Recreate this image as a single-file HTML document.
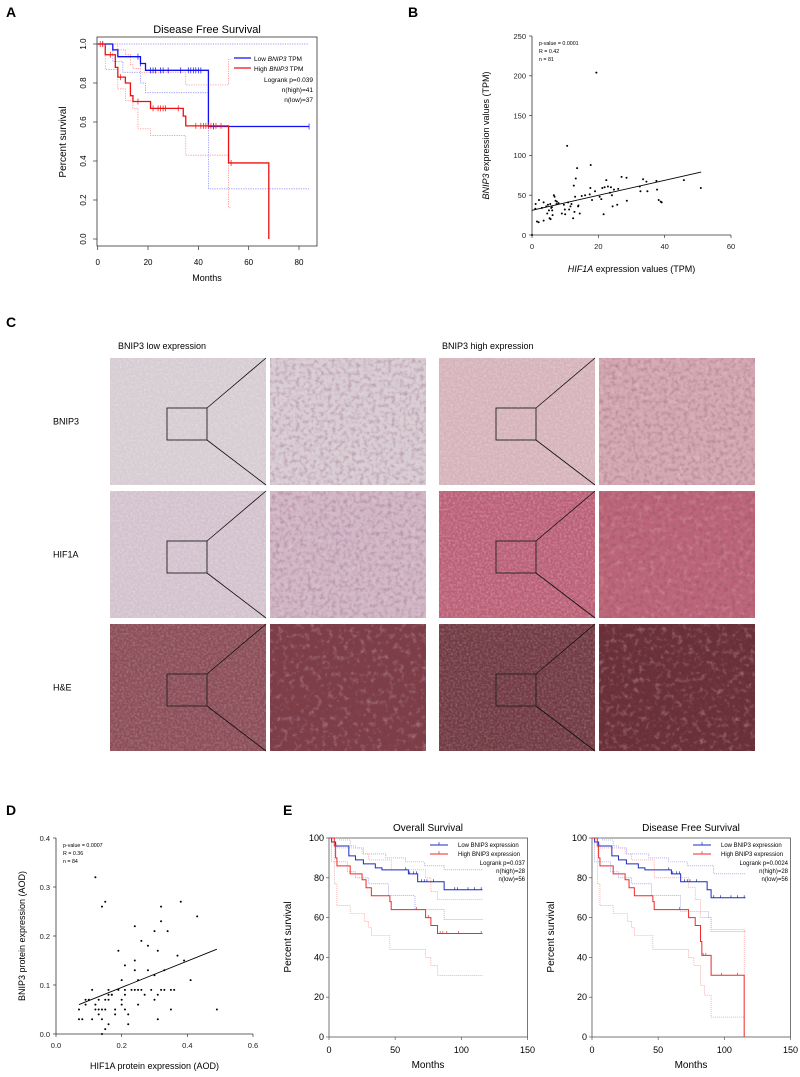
<!DOCTYPE html>
<html><head><meta charset="utf-8">
<style>
html,body{margin:0;padding:0;background:#fff;}
svg{display:block;font-family:"Liberation Sans",Arial,sans-serif;}
</style></head>
<body>
<svg id="fig" width="800" height="1077" viewBox="0 0 800 1077" xmlns="http://www.w3.org/2000/svg">
<defs>
<filter id="tex" x="0" y="0" width="100%" height="100%">
<feTurbulence type="fractalNoise" baseFrequency="0.45" numOctaves="2" seed="3"/>
<feColorMatrix type="matrix" values="0 0 0 0 1  0 0 0 0 1  0 0 0 0 1  0 0 0 -1.2 0.75"/>
</filter>
<filter id="tex2" x="0" y="0" width="100%" height="100%">
<feTurbulence type="fractalNoise" baseFrequency="0.25" numOctaves="2" seed="7"/>
<feColorMatrix type="matrix" values="0 0 0 0 0.2  0 0 0 0 0.05  0 0 0 0 0.1  0 0 0 -1.4 0.8"/>
</filter>
<filter id="tex3" x="0" y="0" width="100%" height="100%">
<feTurbulence type="fractalNoise" baseFrequency="0.18" numOctaves="3" seed="11"/>
<feColorMatrix type="matrix" values="0 0 0 0 0.95  0 0 0 0 0.8  0 0 0 0 0.85  0 0 0 -2.2 1.05"/>
</filter>
</defs>
<g font-weight="bold" font-size="14" fill="#000">
<text x="6" y="17">A</text>
<text x="408" y="17">B</text>
<text x="6" y="327">C</text>
<text x="6" y="815">D</text>
<text x="283" y="815">E</text>
</g>
<g id="panelA"></g>
<g id="panelB"></g>
<g id="panelC"></g>
<g id="panelD"></g>
<g id="panelE1"></g>
<g id="panelE2"></g>
</svg>
<script>
// ---------- Panel A data ----------
const aLowT = [0,6,8,17,19,44,84];
const aLowS = [1,0.97,0.935,0.90,0.865,0.577,0.577];
const aHighT = [0,3,7,8,11,13,14,21,34,35,52,68,68];
const aHighS = [1,0.945,0.88,0.83,0.80,0.735,0.705,0.67,0.63,0.58,0.39,0,0];
const aLowUpT = [0,84]; const aLowUpS = [1,1];
const aLowLoT = [0,6,9,10,17,19,44,84]; const aLowLoS = [1,0.91,0.91,0.855,0.80,0.75,0.257,0.257];
const aHighUpT = [0,8,11,13,14,17,34,35,52,53]; const aHighUpS = [1,0.97,0.945,0.895,0.875,0.855,0.855,0.79,0.92,0.92];
const aHighLoT = [0,3,8,11,13,14,16,21,34,35,52,53]; const aHighLoS = [1,0.87,0.77,0.71,0.71,0.67,0.565,0.53,0.53,0.43,0.16,0.16];
const aLowCens = [2,16,17,21,22,23,25,26,28,33,36,37,38,39,40,41,46,84];
const aHighCens = [1,2,5,9,16,22,24,25,26,27,32,39,41,42,43,44,45,46,47,49,53];
const aXTicks = [0,20,40,60,80];
const aYTicks = [0,0.2,0.4,0.6,0.8,1.0];

// ---------- Panel B data ----------
const bX = [0,1.1,1,1.5,2.1,3.5,3.5,4.3,4.8,4.6,5.1,5.3,5.5,5.8,6.2,6.6,6.8,7.1,7.4,6.1,7.5,9,9.6,9.9,10.6,10.9,11.2,11.6,11.9,12.4,12.6,12.8,13,13.2,13.6,13.9,14.4,15,17.4,17.6,17.7,18.1,19.4,20.4,20.9,21.2,21.6,21.9,22.4,22.9,23.5,23.8,24.1,24.3,24.7,25.7,27,28.5,28.6,32.5,32.7,33.5,34.5,34.8,37.5,37.7,38.2,38.8,39.1,45.8,50.9,6,8,3,16,19,26,10,14,5.6,2];
const bY = [0,39,33,17,44,41,18,36,38,27,31,21,39,34,25,50,48,43,39,31,42,27,38,32,112,41,32,36,39,21,62,29,48,71,84,36,27,49,51,59,88,44,204,48,45,59,26,60,69,61,53,60,50,36,57,38,73,72,43,61,55,70,67,55,68,57,44,42,41,69,59,35,40,34,50,55,58,26,37,20,16];
const bFit = [[0,31],[51,79]];
const bXTicks = [0,20,40,60];
const bYTicks = [0,50,100,150,200,250];

// ---------- Panel D data ----------
const dX = [0.07,0.07,0.08,0.09,0.09,0.10,0.11,0.11,0.12,0.12,0.12,0.13,0.13,0.13,0.14,0.14,0.14,0.14,0.15,0.15,0.15,0.15,0.16,0.16,0.16,0.16,0.17,0.18,0.18,0.19,0.20,0.20,0.20,0.21,0.21,0.21,0.21,0.22,0.22,0.24,0.24,0.24,0.24,0.25,0.25,0.25,0.26,0.26,0.27,0.28,0.28,0.29,0.30,0.30,0.30,0.31,0.31,0.31,0.32,0.32,0.32,0.33,0.33,0.34,0.35,0.35,0.36,0.37,0.38,0.39,0.41,0.43,0.49,0.23,0.19,0.17];
const dY = [0.05,0.03,0.03,0.06,0.07,0.07,0.09,0.03,0.32,0.06,0.05,0.07,0.05,0.04,0.26,0.05,0.03,0.0,0.27,0.07,0.05,0.01,0.09,0.07,0.08,0.02,0.08,0.05,0.04,0.17,0.11,0.07,0.06,0.14,0.09,0.08,0.05,0.04,0.02,0.22,0.15,0.13,0.09,0.09,0.11,0.06,0.19,0.09,0.08,0.18,0.13,0.09,0.21,0.12,0.07,0.17,0.08,0.03,0.26,0.23,0.09,0.13,0.09,0.21,0.09,0.05,0.09,0.16,0.27,0.15,0.11,0.24,0.05,0.09,0.09,0.08];
const dFit = [[0.07,0.06],[0.49,0.173]];
const dXTicks = [0,0.2,0.4,0.6];
const dYTicks = [0,0.1,0.2,0.3,0.4];

// ---------- Panel E data ----------
const eOsLowT = [0,2,5,15,20,26,35,40,60,67,87,116];
const eOsLowS = [100,98,96,91,89,87,85,84,82,78,74,74];
const eOsHighT = [0,4,5,6,16,25,28,32,46,47,73,77,82,116];
const eOsHighS = [100,96,90,86,82,79,75,71,68,64,60,56,52,52];
const eOsLowUpT = [0,8,16,20,26,43,58,72,87,116]; const eOsLowUpS = [100,99,96,95,92,90,88,86,84,84];
const eOsLowLoT = [0,2,14,20,30,45,65,87,116]; const eOsLowLoS = [100,88,83,80,77,71,64,59,59];
const eOsHighUpT = [0,4,6,25,30,47,73,77,82,116]; const eOsHighUpS = [100,97,95,92,89,84,80,73,69,69];
const eOsHighLoT = [0,4,6,16,27,30,32,46,73,77,82,116]; const eOsHighLoS = [100,77,66,62,58,55,51,44,40,36,31,31];
const eOsLowCens = [58,61,64,66,70,72,74,79,95,97,105,110,115];
const eOsHighCens = [66,75,82,84,86,89,98,115];

const eDfsLowT = [0,2,5,15,20,26,35,40,60,67,87,90,116];
const eDfsLowS = [100,98,96,91,89,87,85,84,82,78,74,70,70];
const eDfsHighT = [0,4,5,6,16,25,28,32,46,47,73,78,82,83,90,115,115];
const eDfsHighS = [100,96,90,86,82,79,75,71,68,64,60,56,48,41,31,0,0];
const eDfsLowUpT = [0,8,16,20,26,43,58,72,92,116]; const eDfsLowUpS = [100,99,96,95,92,90,88,86,82,82];
const eDfsLowLoT = [0,2,14,20,30,45,67,88,90,116]; const eDfsLowLoS = [100,88,83,80,77,71,63,60,53,53];
const eDfsHighUpT = [0,4,6,25,30,47,73,78,82,90,115,115]; const eDfsHighUpS = [100,97,95,92,89,80,75,69,60,54,0,0];
const eDfsHighLoT = [0,4,6,16,27,30,32,46,73,77,82,85,90,115]; const eDfsHighLoS = [100,77,66,62,58,55,51,44,40,36,26,21,10,10];
const eDfsLowCens = [58,61,64,66,70,72,74,79,92,97,105,110,115];
const eDfsHighCens = [66,84,86,98,110];
const eXTicks = [0,50,100,150];
const eYTicks = [0,20,40,60,80,100];

const NS = "http://www.w3.org/2000/svg";
function mk(parent, tag, attrs, text){
  const el = document.createElementNS(NS, tag);
  for (const k in attrs) el.setAttribute(k, attrs[k]);
  if (text !== undefined) el.textContent = text;
  parent.appendChild(el);
  return el;
}
function lin(d0,d1,r0,r1){ return v => r0 + (v-d0)/(d1-d0)*(r1-r0); }
function stepPath(T,S,sx,sy){
  let d = "M"+sx(T[0])+","+sy(S[0]);
  for (let i=1;i<T.length;i++){ d += " H"+sx(T[i])+" V"+sy(S[i]); }
  return d;
}
function stepAt(T,S,t){ let v=S[0]; for(let i=0;i<T.length;i++){ if(T[i]<=t) v=S[i]; } return v; }

// ---------- Panel A ----------
(function(){
  const g = document.getElementById('panelA');
  const sx = lin(0,80,97.7,299), sy = lin(0,1,239,44);
  mk(g,'rect',{x:97,y:37,width:220,height:209,fill:'none',stroke:'#333','stroke-width':0.8});
  const t = mk(g,'text',{x:207,y:33,'font-size':11,'text-anchor':'middle'},'Disease Free Survival');
  
  
  aYTicks.forEach(v=>{
    mk(g,'line',{x1:97,x2:93,y1:sy(v),y2:sy(v),stroke:'#333','stroke-width':0.7});
    const l = mk(g,'text',{x:0,y:0,'font-size':8,'text-anchor':'middle',transform:`translate(86,${sy(v)}) rotate(-90)`},v.toFixed(1));
    
    
  });
  aXTicks.forEach(v=>{
    mk(g,'line',{x1:sx(v),x2:sx(v),y1:246,y2:250,stroke:'#333','stroke-width':0.7});
    const l = mk(g,'text',{x:sx(v),y:265,'font-size':8,'text-anchor':'middle'},String(v));
    
    
  });
  const xl = mk(g,'text',{x:207,y:281,'font-size':9,'text-anchor':'middle'},'Months');
  
  
  const yl = mk(g,'text',{x:0,y:0,'font-size':10,'text-anchor':'middle',transform:'translate(66,142) rotate(-90)'},'Percent survival');
  
  
  [[aLowUpT,aLowUpS,'#7a7aff'],[aLowLoT,aLowLoS,'#7a7aff'],[aHighUpT,aHighUpS,'#ff7a7a'],[aHighLoT,aHighLoS,'#ff7a7a']].forEach(c=>{
    const p = mk(g,'path',{d:stepPath(c[0],c[1],sx,sy),fill:'none',stroke:c[2],'stroke-width':0.7,'stroke-dasharray':'1.2,1.2'});
    
    
  });
  const pl = mk(g,'path',{d:stepPath(aLowT,aLowS,sx,sy),fill:'none',stroke:'#1010ee','stroke-width':1.3});
  
  
  const ph = mk(g,'path',{d:stepPath(aHighT,aHighS,sx,sy),fill:'none',stroke:'#ee1010','stroke-width':1.3});
  
  
  aLowCens.forEach(c=>{ const y=sy(stepAt(aLowT,aLowS,c)); const m=mk(g,'line',{x1:sx(c),x2:sx(c),y1:y-3,y2:y+3,stroke:'#1010ee','stroke-width':0.7});   });
  aHighCens.forEach(c=>{ const y=sy(stepAt(aHighT,aHighS,c)); const m=mk(g,'line',{x1:sx(c),x2:sx(c),y1:y-3,y2:y+3,stroke:'#ee1010','stroke-width':0.7});   });
  const lg = mk(g,'g',{});
  
  
  mk(lg,'line',{x1:234,x2:251,y1:58,y2:58,stroke:'#1010ee','stroke-width':1.3});
  mk(lg,'line',{x1:234,x2:251,y1:68,y2:68,stroke:'#ee1010','stroke-width':1.3});
  const l1 = mk(lg,'text',{x:254,y:61,'font-size':6.5});
  l1.innerHTML = 'Low <tspan font-style="italic">BNIP3</tspan> TPM';
  const l2 = mk(lg,'text',{x:254,y:71,'font-size':6.5});
  l2.innerHTML = 'High <tspan font-style="italic">BNIP3</tspan> TPM';
  mk(lg,'text',{x:313,y:82,'font-size':6.5,'text-anchor':'end'},'Logrank p=0.039');
  mk(lg,'text',{x:313,y:92,'font-size':6.5,'text-anchor':'end'},'n(high)=41');
  mk(lg,'text',{x:313,y:102,'font-size':6.5,'text-anchor':'end'},'n(low)=37');
})();

// ---------- generic scatter ----------
function scatter(gid, X, Y, fit, xt, yt, geo, fmtX, fmtY, stats, xlab, ylab, prefix){
  const g = document.getElementById(gid);
  const sx = lin(geo.x0v,geo.x1v,geo.x0,geo.x1), sy = lin(geo.y0v,geo.y1v,geo.y0,geo.y1);
  mk(g,'line',{x1:geo.x0,x2:geo.x0,y1:geo.y0,y2:geo.y1,stroke:'#333','stroke-width':0.8});
  mk(g,'line',{x1:geo.x0,x2:geo.x1,y1:geo.y0,y2:geo.y0,stroke:'#333','stroke-width':0.8});
  yt.forEach(v=>{
    mk(g,'line',{x1:geo.x0,x2:geo.x0-3,y1:sy(v),y2:sy(v),stroke:'#333','stroke-width':0.7});
    const l = mk(g,'text',{x:geo.x0-6,y:sy(v)+2.8,'font-size':7.5,'text-anchor':'end',fill:'#222'},fmtY(v));
    
    
  });
  xt.forEach(v=>{
    mk(g,'line',{x1:sx(v),x2:sx(v),y1:geo.y0,y2:geo.y0+3,stroke:'#333','stroke-width':0.7});
    const l = mk(g,'text',{x:sx(v),y:geo.y0+14,'font-size':7.5,'text-anchor':'middle',fill:'#222'},fmtX(v));
    
    
  });
  X.forEach((x,i)=>{
    const c = mk(g,'circle',{cx:sx(x),cy:sy(Y[i]),r:1,fill:'#000'});
    
    
  });
  const f = mk(g,'line',{x1:sx(fit[0][0]),y1:sy(fit[0][1]),x2:sx(fit[1][0]),y2:sy(fit[1][1]),stroke:'#000','stroke-width':0.9});
  
  
  stats.forEach((s,i)=>{ mk(g,'text',{x:geo.x0+7,y:geo.y1+9+i*8,'font-size':5.3},s); });
  const xl = mk(g,'text',{x:(geo.x0+geo.x1)/2,y:geo.y0+geo.xlabOff,'font-size':9,'text-anchor':'middle'});
  xl.innerHTML = xlab;
  
  
  const yl = mk(g,'text',{x:0,y:0,'font-size':9,'text-anchor':'middle',transform:`translate(${geo.ylabX},${(geo.y0+geo.y1)/2}) rotate(-90)`});
  yl.innerHTML = ylab;
  
  
}
scatter('panelB', bX, bY, bFit, bXTicks, bYTicks,
  {x0v:0,x1v:60,x0:532,x1:731,y0v:0,y1v:250,y0:235,y1:36,xlabOff:37,ylabX:489},
  v=>String(v), v=>String(v), ['p-value = 0.0001','R = 0.42','n = 81'],
  '<tspan font-style="italic">HIF1A</tspan> expression values (TPM)',
  '<tspan font-style="italic">BNIP3</tspan> expression values (TPM)','b');
scatter('panelD', dX, dY, dFit, dXTicks, dYTicks,
  {x0v:0,x1v:0.6,x0:56,x1:253,y0v:0,y1v:0.4,y0:1034,y1:838,xlabOff:35,ylabX:25},
  v=>v.toFixed(1), v=>v.toFixed(1), ['p-value = 0.0007','R = 0.36','n = 84'],
  'HIF1A protein expression (AOD)', 'BNIP3 protein expression (AOD)','d');

// ---------- Panel E ----------
function kmE(gid, x0, title, lowT, lowS, highT, highS, bands, lowC, highC, p){
  const g = document.getElementById(gid);
  const sx = lin(0,150,x0,x0+198.5), sy = lin(0,100,1037,838);
  const blue='#1c2bc0', red='#ee2a2a';
  mk(g,'rect',{x:x0,y:838,width:198.5,height:199,fill:'none',stroke:'#555','stroke-width':0.8});
  const t = mk(g,'text',{x:x0+99,y:831,'font-size':10,'text-anchor':'middle'},title);
  
  
  eYTicks.forEach(v=>{
    mk(g,'line',{x1:x0,x2:x0-3,y1:sy(v),y2:sy(v),stroke:'#555','stroke-width':0.7});
    const l = mk(g,'text',{x:x0-5,y:sy(v)+3,'font-size':9,'text-anchor':'end'},String(v));
    
    
  });
  eXTicks.forEach(v=>{
    mk(g,'line',{x1:sx(v),x2:sx(v),y1:1037,y2:1040,stroke:'#555','stroke-width':0.7});
    const l = mk(g,'text',{x:sx(v),y:1053,'font-size':9,'text-anchor':'middle'},String(v));
    
    
  });
  const xl = mk(g,'text',{x:x0+99,y:1068,'font-size':10,'text-anchor':'middle'},'Months');
  
  
  const yl = mk(g,'text',{x:0,y:0,'font-size':10,'text-anchor':'middle',transform:`translate(${x0-38},937) rotate(-90)`},'Percent survival');
  
  
  bands.forEach(b=>{
    const pth = mk(g,'path',{d:stepPath(b[0],b[1],sx,sy),fill:'none',stroke:b[2]?'#7a80ee':'#f08080','stroke-width':0.6,'stroke-dasharray':'1,1'});
    
    
  });
  const pl = mk(g,'path',{d:stepPath(lowT,lowS,sx,sy),fill:'none',stroke:blue,'stroke-width':1});
  
  
  const ph = mk(g,'path',{d:stepPath(highT,highS,sx,sy),fill:'none',stroke:red,'stroke-width':1});
  
  
  lowC.forEach(c=>{ const y=sy(stepAt(lowT,lowS,c)); const m=mk(g,'line',{x1:sx(c),x2:sx(c),y1:y-2.5,y2:y,stroke:blue,'stroke-width':0.7});   });
  highC.forEach(c=>{ const y=sy(stepAt(highT,highS,c)); const m=mk(g,'line',{x1:sx(c),x2:sx(c),y1:y-2.5,y2:y,stroke:red,'stroke-width':0.7});   });
  const lg = mk(g,'g',{});
  
  
  const lx = x0+101;
  mk(lg,'line',{x1:lx,x2:lx+18,y1:845,y2:845,stroke:blue,'stroke-width':1});
  mk(lg,'line',{x1:lx+9,x2:lx+9,y1:842,y2:845,stroke:blue,'stroke-width':0.7});
  mk(lg,'line',{x1:lx,x2:lx+18,y1:854,y2:854,stroke:red,'stroke-width':1});
  mk(lg,'line',{x1:lx+9,x2:lx+9,y1:851,y2:854,stroke:red,'stroke-width':0.7});
  mk(lg,'text',{x:lx+28,y:847,'font-size':6},'Low BNIP3 expression');
  mk(lg,'text',{x:lx+28,y:856,'font-size':6},'High BNIP3 expression');
  mk(lg,'text',{x:x0+196,y:865,'font-size':6,'text-anchor':'end'},'Logrank p='+p);
  mk(lg,'text',{x:x0+196,y:873,'font-size':6,'text-anchor':'end'},'n(high)=28');
  mk(lg,'text',{x:x0+196,y:881,'font-size':6,'text-anchor':'end'},'n(low)=56');
}
kmE('panelE1',329,'Overall Survival',eOsLowT,eOsLowS,eOsHighT,eOsHighS,
  [[eOsLowUpT,eOsLowUpS,1],[eOsLowLoT,eOsLowLoS,1],[eOsHighUpT,eOsHighUpS,0],[eOsHighLoT,eOsHighLoS,0]],
  eOsLowCens,eOsHighCens,'0.037');
kmE('panelE2',592,'Disease Free Survival',eDfsLowT,eDfsLowS,eDfsHighT,eDfsHighS,
  [[eDfsLowUpT,eDfsLowUpS,1],[eDfsLowLoT,eDfsLowLoS,1],[eDfsHighUpT,eDfsHighUpS,0],[eDfsHighLoT,eDfsHighLoS,0]],
  eDfsLowCens,eDfsHighCens,'0.0024');

// ---------- Panel C ----------
(function(){
  const g = document.getElementById('panelC');
  const cols = [110,270,439,599], w = 156;
  const rows = [358,491,624], h = 127;
  const rowNames = ['BNIP3','HIF1A','H&E'];
  const fills = [
    ['#d6ccd2','#d9cdd4','#d6b3bb','#d4a9b3'],
    ['#d3c2cd','#d2b8c7','#bb5f76','#bd6679'],
    ['#8c4e58','#7d3e48','#723a43','#6a3038']
  ];
  const h1 = mk(g,'text',{x:118,y:349,'font-size':9},'BNIP3 low expression');
  
  
  const h2 = mk(g,'text',{x:442,y:349,'font-size':9},'BNIP3 high expression');
  
  
  rows.forEach((ry,ri)=>{
    const rl = mk(g,'text',{x:53,y:ry+h/2+3,'font-size':9},rowNames[ri]);
    
    
    cols.forEach((cx,ci)=>{
      const r = mk(g,'rect',{x:cx,y:ry,width:w,height:h,fill:fills[ri][ci]});
      
      
      if (ci%2===0) {
        mk(g,'rect',{x:cx,y:ry,width:w,height:h,filter:'url(#tex)',opacity:ri===2?0.35:0.45});
      } else {
        mk(g,'rect',{x:cx,y:ry,width:w,height:h,filter:'url(#tex2)',opacity:0.5});
        mk(g,'rect',{x:cx,y:ry,width:w,height:h,filter:'url(#tex3)',opacity:ri===2?0.35:0.25});
      }
    });
    [0,2].forEach(ci=>{
      const bx = cols[ci]+57, by = ry+50, bw = 40, bh = 32;
      const b = mk(g,'rect',{x:bx,y:by,width:bw,height:bh,fill:'none',stroke:'#222','stroke-width':0.9});
      
      
      mk(g,'line',{x1:bx+bw,y1:by,x2:cols[ci]+w,y2:ry,stroke:'#111','stroke-width':0.8});
      mk(g,'line',{x1:bx+bw,y1:by+bh,x2:cols[ci]+w,y2:ry+h,stroke:'#111','stroke-width':0.8});
    });
  });
})();
</script>
</body></html>
